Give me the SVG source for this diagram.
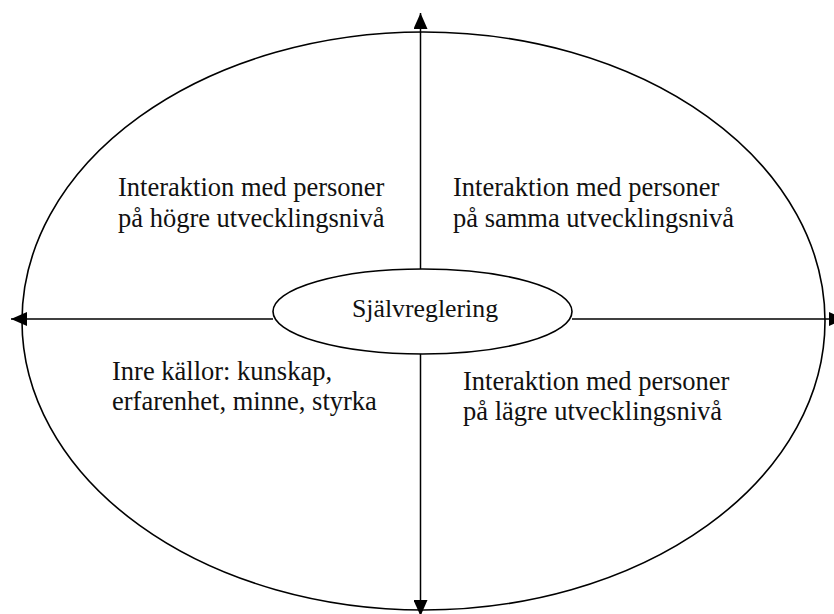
<svg xmlns="http://www.w3.org/2000/svg" width="834" height="614" viewBox="0 0 834 614">
  <style>
    .shape { fill: none; stroke: #000; stroke-width: 1.6; }
    .node-shape { fill: #fff; stroke: #000; stroke-width: 1.6; }
    .axis { stroke: #000; stroke-width: 1.5; fill: none; }
    .label { font-family: "Liberation Serif", "Times New Roman", serif; font-size: 26.5px; fill: #111; }
    .center-label { font-family: "Liberation Serif", "Times New Roman", serif; font-size: 25.8px; fill: #111; text-anchor: middle; }
  </style>
  <defs>
    <marker id="head" viewBox="0 0 16 14" refX="16" refY="7" markerWidth="16" markerHeight="14" markerUnits="userSpaceOnUse" orient="auto">
      <path d="M0,0 L16,7 L0,14 Z" fill="#000"/>
    </marker>
  </defs>

  <rect width="834" height="614" fill="#fff"/>

  <!-- outer boundary -->
  <g id="outer">
    <ellipse class="shape" cx="423.5" cy="321" rx="401.5" ry="289"/>
  </g>

  <!-- axes with arrowheads -->
  <g id="connectors">
    <line class="axis" x1="420.5" y1="269" x2="420.5" y2="13" marker-end="url(#head)"/>
    <line class="axis" x1="420.5" y1="354" x2="420.5" y2="616" marker-end="url(#head)"/>
    <line class="axis" x1="273" y1="319" x2="11" y2="319" marker-end="url(#head)"/>
    <line class="axis" x1="572" y1="319" x2="845" y2="319" marker-end="url(#head)"/>
  </g>

  <!-- central node -->
  <g id="sjalvreglering">
    <ellipse class="node-shape" cx="422.5" cy="311.5" rx="149.5" ry="42.5"/>
    <text class="center-label" x="425" y="317">Självreglering</text>
  </g>

  <!-- quadrant labels -->
  <g id="hogre">
    <text class="label" x="118" y="196">Interaktion med personer</text>
    <text class="label" x="118" y="227">på högre utvecklingsnivå</text>
  </g>
  <g id="samma">
    <text class="label" x="453" y="196">Interaktion med personer</text>
    <text class="label" x="453" y="227">på samma utvecklingsnivå</text>
  </g>
  <g id="inre">
    <text class="label" x="112" y="380">Inre källor: kunskap,</text>
    <text class="label" x="112" y="410">erfarenhet, minne, styrka</text>
  </g>
  <g id="lagre">
    <text class="label" x="463" y="390">Interaktion med personer</text>
    <text class="label" x="463" y="420">på lägre utvecklingsnivå</text>
  </g>
</svg>
